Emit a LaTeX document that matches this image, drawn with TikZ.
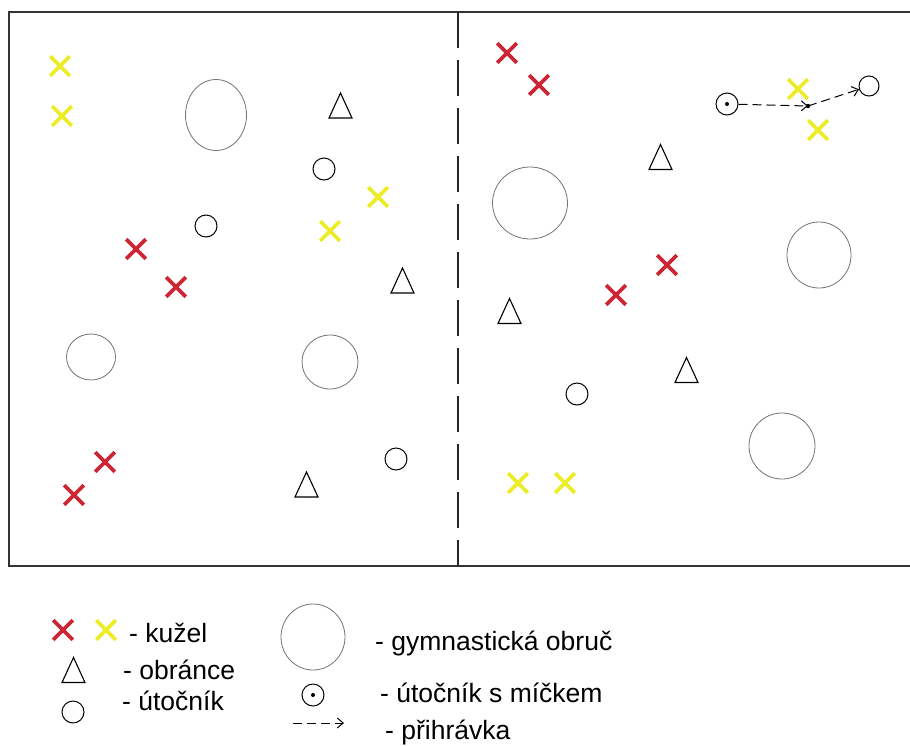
\documentclass[tikz,border=0pt]{standalone}
\usepackage{fontspec}
\setmainfont{Liberation Sans}
\usetikzlibrary{shapes.misc,shapes.geometric,arrows.meta}
\definecolor{conered}{RGB}{204,38,52}
\definecolor{coneyel}{RGB}{236,236,40}
\begin{document}
\begin{tikzpicture}[x=1pt,y=-1pt,
  redx/.style={cross out, draw=conered, line width=3.6pt, minimum size=16pt, inner sep=0pt},
  yelx/.style={cross out, draw=coneyel, line width=3.6pt, minimum size=16pt, inner sep=0pt},
  hoop/.style={ellipse, draw=black!55, line width=0.8pt, inner sep=0pt},
  player/.style={circle, draw, line width=1pt, minimum size=22pt, inner sep=0pt},
  pass/.style={dash pattern=on 9pt off 5pt, line width=1pt, -{Straight Barb[length=6pt,width=10pt]}},
  lbl/.style={anchor=base west, inner sep=0pt, font=\fontsize{26.5}{30}\selectfont},
  defender/.pic={\draw[line width=1.1pt] (-11.5,12.5) -- (0,-12.5) -- (11.5,12.5) -- cycle;}
]
\useasboundingbox (0,0) rectangle (910,745);
% field
\draw[line width=1.6pt, black!80] (9,12) rectangle (912,566);
\draw[line width=1.6pt, black!85, dash pattern=on 36pt off 12pt] (458,12) -- (458,566);

% hoops
\node[hoop, minimum width=61pt, minimum height=71pt] (h1) at (216,115) {};
\node[hoop, minimum width=49pt, minimum height=46pt] (h2) at (91,357) {};
\node[hoop, minimum width=56pt, minimum height=54pt] (h3) at (330,362) {};
\node[hoop, minimum width=75pt, minimum height=72pt] (h4) at (530,203) {};
\node[hoop, minimum width=64pt, minimum height=66pt] (h5) at (819,255) {};
\node[hoop, minimum width=66pt, minimum height=66pt] (h6) at (782,446) {};

% defenders
\pic (d1) at (340.5,105.5) {defender};
\pic (d2) at (402.5,280.5) {defender};
\pic (d3) at (306.5,484.5) {defender};
\pic (d4) at (660.5,157) {defender};
\pic (d5) at (509.5,311) {defender};
\pic (d6) at (686.5,370) {defender};

% attackers
\node[player] (a1) at (324,169) {};
\node[player] (a2) at (206,226) {};
\node[player] (a3) at (396,459) {};
\node[player] (a4) at (577,394) {};
\node[player, minimum size=20pt] (recv) at (869,86) {};
\node[player] (ball) at (727,104) {};
\fill (ball.center) circle (2pt);

% cones
\node[yelx] (y1) at (60,66) {};
\node[yelx] (y2) at (62,116) {};
\node[yelx] (y3) at (378,197) {};
\node[yelx] (y4) at (330,231) {};
\node[yelx] (y5) at (798,89) {};
\node[yelx] (y6) at (818,130) {};
\node[yelx] (y7) at (518,483) {};
\node[yelx] (y8) at (565,483) {};
\node[redx] (r1) at (136,249) {};
\node[redx] (r2) at (176,287) {};
\node[redx] (r3) at (105,462) {};
\node[redx] (r4) at (74,495) {};
\node[redx] (r5) at (507,53) {};
\node[redx] (r6) at (539,85) {};
\node[redx] (r7) at (667,265) {};
\node[redx] (r8) at (616,295) {};

% pass
\coordinate (mid) at (808,106);
\draw[pass] (ball) -- (mid);
\fill (mid) circle (2.2pt);
\draw[pass] (mid) -- (recv);

% legend
\node[redx] (lr) at (63,630) {};
\node[yelx] (ly) at (106,630) {};
\node[lbl] (t1) at (129,642) {- kužel};
\pic (ld) at (73.5,670) {defender};
\node[lbl] (t2) at (123,679) {- obránce};
\node[player] (la) at (73,712) {};
\node[lbl] (t3) at (122,710) {- útočník};
\node[hoop, minimum width=64pt, minimum height=66pt] (lh) at (313,637) {};
\node[lbl] (t4) at (375,650) {- gymnastická obruč};
\node[player] (lb) at (313,695) {};
\fill (lb.center) circle (2pt);
\node[lbl] (t5) at (380,702) {- útočník s míčkem};
\coordinate (lp1) at (293,723);
\coordinate (lp2) at (344,723);
\draw[pass] (lp1) -- (lp2);
\node[lbl] (t6) at (385,739) {- přihrávka};
\end{tikzpicture}
\end{document}
